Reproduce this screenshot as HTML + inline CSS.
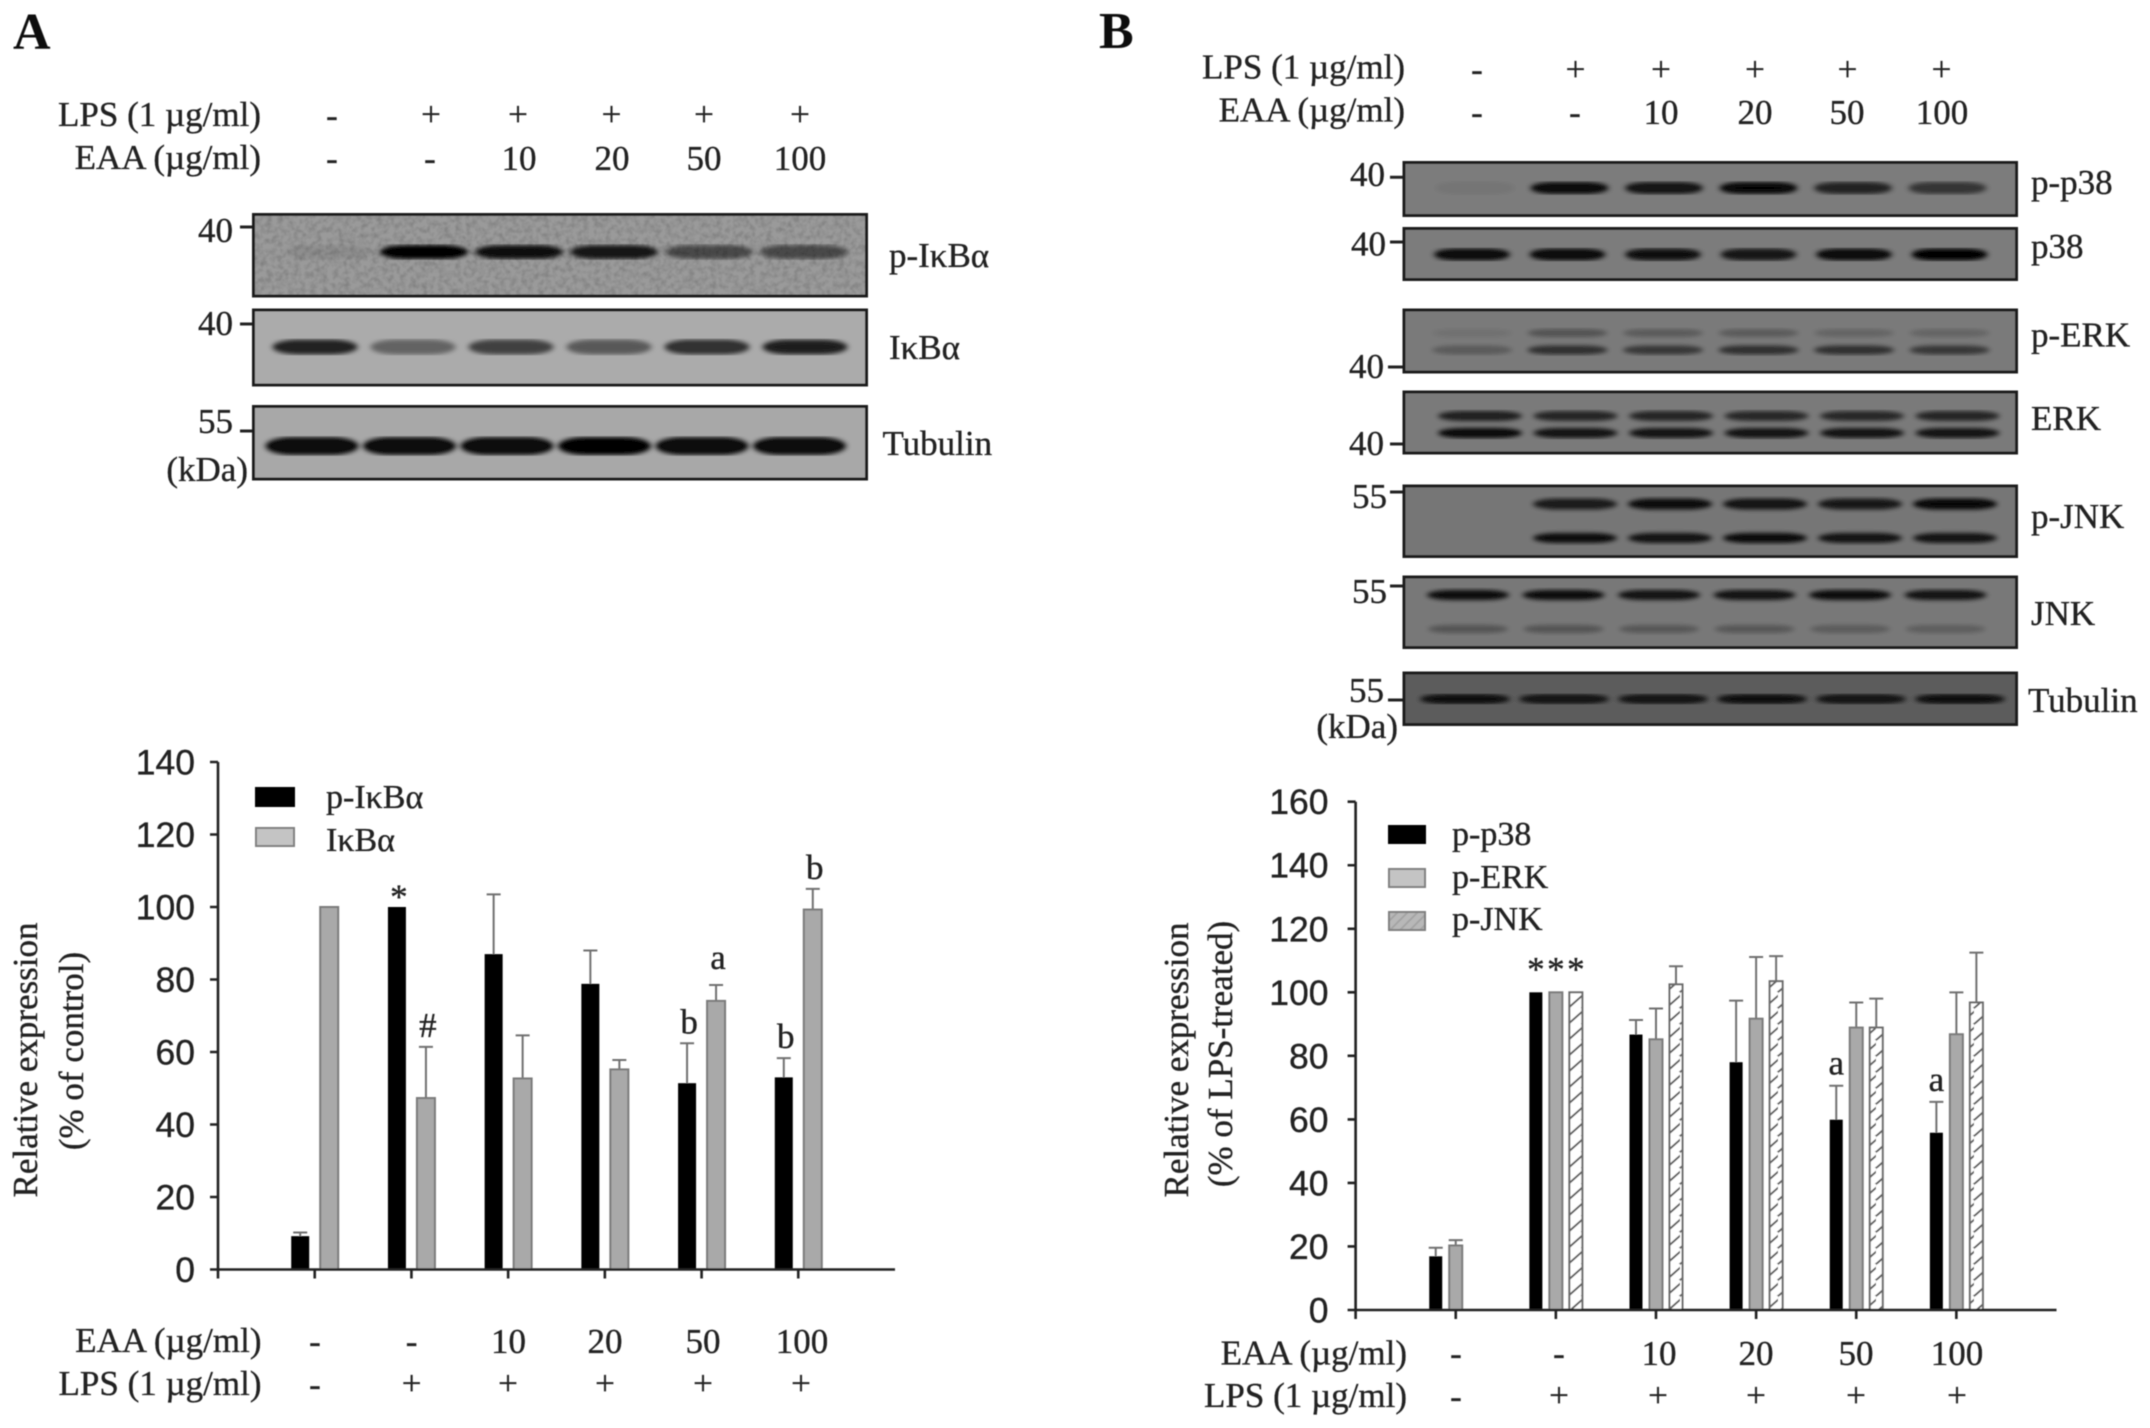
<!DOCTYPE html>
<html lang="en">
<head>
<meta charset="utf-8">
<title>EAA western blots and relative expression charts</title>
<style>
html,body{margin:0;padding:0;background:#fff;width:2150px;height:1428px;overflow:hidden}
svg{display:block}
text{fill:#222;stroke:#222;stroke-width:0.35px}
.s{font-family:"Liberation Serif",serif;font-size:35px}
.t{font-family:"Liberation Sans",sans-serif;font-size:35.5px;text-anchor:end}
.m{text-anchor:middle}
.e{text-anchor:end}
.letter{font-family:"Liberation Serif",serif;font-size:52px;font-weight:bold;fill:#111;stroke:none}
.leg{font-size:34px}
</style>
</head>
<body>
<svg id="figure" xmlns="http://www.w3.org/2000/svg" width="2150" height="1428" viewBox="0 0 2150 1428">
<defs>
<filter id="soft"><feGaussianBlur stdDeviation="0.65"/></filter>
<filter id="bandblur" x="-5%" y="-5%" width="110%" height="110%"><feGaussianBlur stdDeviation="3 2.2"/></filter>
<filter id="grain" x="0" y="0" width="100%" height="100%"><feTurbulence type="fractalNoise" baseFrequency="0.18" numOctaves="2" seed="4"/><feColorMatrix values="0 0 0 0 0 0 0 0 0 0 0 0 0 0 0 1.3 0 0 0 -0.5"/></filter>
<pattern id="hatch" patternUnits="userSpaceOnUse" width="14" height="16"><rect width="14" height="16" fill="#fff"/><path d="M-2 18L16 2M-2 2L2 -2M12 18L16 14" stroke="#5e5e5e" stroke-width="2" fill="none"/></pattern>
<pattern id="hatch-light" patternUnits="userSpaceOnUse" width="10" height="10"><rect width="10" height="10" fill="#b8b8b8"/><path d="M-2 12L12 -2M-2 2L2 -2M8 12L12 8" stroke="#a4a4a4" stroke-width="2" fill="none"/></pattern>
</defs>
<g id="root" filter="url(#soft)">

<text class="letter" x="13" y="49">A</text>
<text class="letter" x="1099" y="48">B</text>

<g>
<text class="s e" x="261" y="126">LPS (1 µg/ml)</text>
<text class="s e" x="261" y="169">EAA (µg/ml)</text>
<text class="s m" x="332" y="127">-</text>
<text class="s m" x="431" y="126">+</text>
<text class="s m" x="518" y="126">+</text>
<text class="s m" x="611.500" y="126">+</text>
<text class="s m" x="704" y="126">+</text>
<text class="s m" x="800" y="126">+</text>
<text class="s m" x="332" y="170">-</text>
<text class="s m" x="430" y="170">-</text>
<text class="s m" x="519" y="170">10</text>
<text class="s m" x="612" y="170">20</text>
<text class="s m" x="704" y="170">50</text>
<text class="s m" x="800" y="170">100</text>
</g>

<g>
<text class="s e" x="1405" y="78.500">LPS (1 µg/ml)</text>
<text class="s e" x="1405" y="121.500">EAA (µg/ml)</text>
<text class="s m" x="1477" y="81">-</text>
<text class="s m" x="1575.500" y="81">+</text>
<text class="s m" x="1661" y="81">+</text>
<text class="s m" x="1755" y="81">+</text>
<text class="s m" x="1847.500" y="81">+</text>
<text class="s m" x="1941.500" y="81">+</text>
<text class="s m" x="1477" y="124">-</text>
<text class="s m" x="1575" y="124">-</text>
<text class="s m" x="1661" y="124">10</text>
<text class="s m" x="1755" y="124">20</text>
<text class="s m" x="1847" y="124">50</text>
<text class="s m" x="1942" y="124">100</text>
</g>

<g id="blots"></g>

<g>
<text class="s e" x="233" y="242">40</text>
<text class="s e" x="233" y="335">40</text>
<text class="s e" x="233" y="433">55</text>
<text class="s e" x="248" y="481">(kDa)</text>
<path d="M240 227H252M240 324H252M240 431H252" stroke="#222" stroke-width="3"/>
<text class="s" x="889" y="267">p-IκBα</text>
<text class="s" x="889" y="359">IκBα</text>
<text class="s" x="882.500" y="455">Tubulin</text>
</g>

<g>
<text class="s e" x="1385" y="186">40</text>
<text class="s e" x="1386" y="255.500">40</text>
<text class="s e" x="1384" y="378">40</text>
<text class="s e" x="1384" y="455">40</text>
<text class="s e" x="1387" y="508">55</text>
<text class="s e" x="1387" y="603">55</text>
<text class="s e" x="1384" y="702">55</text>
<text class="s e" x="1398" y="738">(kDa)</text>
<path d="M1390 177.300H1402.500M1390 242H1402.500M1388 367H1402.500M1390 444H1402.500M1390 492H1402.500M1390 586H1402.500M1388 700H1402.500" stroke="#222" stroke-width="3"/>
<text class="s" x="2031" y="194">p-p38</text>
<text class="s" x="2031" y="258">p38</text>
<text class="s" x="2031" y="346.500">p-ERK</text>
<text class="s" x="2031" y="430">ERK</text>
<text class="s" x="2031" y="528">p-JNK</text>
<text class="s" x="2031" y="625">JNK</text>
<text class="s" x="2028" y="712">Tubulin</text>
</g>

<g id="chart-a">
<text class="s m" transform="translate(37,1060) rotate(-90)">Relative expression</text>
<text class="s m" transform="translate(83,1051) rotate(-90)">(% of control)</text>
<rect x="255" y="787" width="40" height="20" fill="#000"/>
<rect x="256" y="828" width="38" height="18" fill="#c4c4c4" stroke="#808080" stroke-width="2"/>
<text class="s leg" x="326" y="808">p-IκBα</text>
<text class="s leg" x="326" y="851">IκBα</text>
<text class="s e" x="261.500" y="1352">EAA (µg/ml)</text>
<text class="s e" x="261.500" y="1395">LPS (1 µg/ml)</text>
<text class="s m" x="315" y="1353">-</text>
<text class="s m" x="411.600" y="1353">-</text>
<text class="s m" x="508.500" y="1353">10</text>
<text class="s m" x="605" y="1353">20</text>
<text class="s m" x="703" y="1353">50</text>
<text class="s m" x="802" y="1353">100</text>
<text class="s m" x="315" y="1396">-</text>
<text class="s m" x="411.600" y="1395">+</text>
<text class="s m" x="508" y="1395">+</text>
<text class="s m" x="605" y="1395">+</text>
<text class="s m" x="703" y="1395">+</text>
<text class="s m" x="801" y="1395">+</text>
</g>

<g id="chart-b">
<text class="s m" transform="translate(1188,1060) rotate(-90)">Relative expression</text>
<text class="s m" transform="translate(1232,1054) rotate(-90)">(% of LPS-treated)</text>
<rect x="1388" y="825" width="38" height="19" fill="#000"/>
<rect x="1389" y="869" width="36" height="18" fill="#c4c4c4" stroke="#808080" stroke-width="2"/>
<rect x="1389" y="912" width="36" height="18" fill="url(#hatch-light)" stroke="#808080" stroke-width="2"/>
<text class="s leg" x="1452" y="845">p-p38</text>
<text class="s leg" x="1452" y="888">p-ERK</text>
<text class="s leg" x="1452" y="930">p-JNK</text>
<text class="s e" x="1407" y="1364.500">EAA (µg/ml)</text>
<text class="s e" x="1407" y="1407">LPS (1 µg/ml)</text>
<text class="s m" x="1456" y="1365">-</text>
<text class="s m" x="1559" y="1365">-</text>
<text class="s m" x="1659" y="1365">10</text>
<text class="s m" x="1756" y="1365">20</text>
<text class="s m" x="1856" y="1365">50</text>
<text class="s m" x="1957" y="1365">100</text>
<text class="s m" x="1456" y="1408">-</text>
<text class="s m" x="1559" y="1407">+</text>
<text class="s m" x="1658" y="1407">+</text>
<text class="s m" x="1756" y="1407">+</text>
<text class="s m" x="1856" y="1407">+</text>
<text class="s m" x="1957" y="1407">+</text>
</g>
</g>
</svg>
<script>
// Chart A data
const aCategories = ['control', 'LPS', 'EAA 10', 'EAA 20', 'EAA 50', 'EAA 100'];
const aTickLabels = [0, 20, 40, 60, 80, 100, 120, 140];
const aPIkba = [9.2, 100, 87, 78.8, 51.4, 53];
const aPIkbaErr = [1, 0, 16.5, 9.2, 11, 5.3];
const aPIkbaMarks = ['', '*', '', '', 'b', 'b'];
const aIkba = [100, 47.3, 52.7, 55.2, 74.1, 99.3];
const aIkbaErr = [0, 14.1, 11.9, 2.6, 4.4, 5.7];
const aIkbaMarks = ['', '#', '', '', 'a', 'b'];

// Chart B data
const bCategories = ['control', 'LPS', 'EAA 10', 'EAA 20', 'EAA 50', 'EAA 100'];
const bTickLabels = [0, 20, 40, 60, 80, 100, 120, 140, 160];
const bPP38 = [16.9, 100, 86.7, 78, 59.9, 55.8];
const bPP38Err = [2.7, 0, 4.6, 19.4, 10.7, 9.7];
const bPP38Marks = ['', '*', '', '', 'a', 'a'];
const bPErk = [20.3, 100, 85.2, 91.7, 88.9, 86.8];
const bPErkErr = [1.7, 0, 9.7, 19.4, 7.9, 13.2];
const bPErkMarks = ['', '*', '', '', '', ''];
const bPJnk = [null, 100, 102.5, 103.5, 88.9, 96.8];
const bPJnkErr = [0, 0, 5.7, 7.9, 9.1, 15.7];
const bPJnkMarks = ['', '*', '', '', '', ''];

// Blot band intensities per lane
const bandPIkba = [0.08, 1, 0.9, 0.85, 0.52, 0.52];
const bandIkba = [0.8, 0.42, 0.62, 0.48, 0.72, 0.82];
const bandTubulinA = [0.95, 0.95, 0.95, 1, 0.95, 0.95];
const bandPP38 = [0.06, 0.92, 0.85, 0.95, 0.72, 0.58];
const bandP38 = [0.92, 0.92, 0.88, 0.82, 0.92, 1];
const bandPErkUpper = [0.08, 0.32, 0.26, 0.26, 0.18, 0.18];
const bandPErkLower = [0.26, 0.62, 0.55, 0.62, 0.62, 0.55];
const bandErkUpper = [0.75, 0.7, 0.7, 0.68, 0.68, 0.7];
const bandErkLower = [0.95, 0.85, 0.85, 0.85, 0.85, 0.85];
const bandPJnkUpper = [0, 0.78, 0.9, 0.85, 0.8, 0.95];
const bandPJnkLower = [0, 0.9, 0.85, 0.92, 0.85, 0.85];
const bandJnkUpper = [0.9, 0.9, 0.85, 0.85, 0.9, 0.85];
const bandJnkLower = [0.3, 0.3, 0.28, 0.28, 0.24, 0.22];
const bandTubulinB = [0.85, 0.8, 0.8, 0.85, 0.8, 0.85];

const NS = 'http://www.w3.org/2000/svg';
function make(tag, parent) {
  const el = document.createElementNS(NS, tag);
  parent.appendChild(el);
  return el;
}
function setAll(el, props) {
  Object.keys(props).forEach(function (k) { el.setAttribute(k, props[k]); });
}

// ---------- charts ----------
function drawChart(cfg) {
  const host = document.getElementById(cfg.id);
  const n = cfg.categories.length + 1;
  const xTick = function (i) { return cfg.x0 + (cfg.x1 - cfg.x0) * (i + 1) / n; };
  const yVal = function (v) { return cfg.y0 - (cfg.y0 - cfg.yTop) * v / cfg.yMax; };

  cfg.series.forEach(function (s, si) {
    const off = (si - (cfg.series.length - 1) / 2) * cfg.step;
    s.values.forEach(function (v, i) {
      if (v === null) return;
      const cx = xTick(i) + off;
      const top = yVal(v);
      const errTop = yVal(v + s.errors[i]);
      if (s.errors[i] > 0) {
        const err = make('path', host);
        setAll(err, { d: 'M' + cx + ' ' + top + 'V' + errTop + 'M' + (cx - 7) + ' ' + errTop + 'H' + (cx + 7), stroke: '#707070', 'stroke-width': 2, fill: 'none' });
        
        
      }
      const bar = make('rect', host);
      setAll(bar, { x: cx - cfg.barW / 2, y: top, width: cfg.barW, height: cfg.y0 - top, fill: s.fill });
      if (s.stroke) { bar.setAttribute('stroke', s.stroke); bar.setAttribute('stroke-width', 2); }
      
      
      const mark = s.marks[i];
      if (mark) {
        const t = make('text', host);
        const gap = mark === '*' ? cfg.starGap : (mark === 'a' ? cfg.aGap : 10);
        setAll(t, { x: cx + cfg.markShift, y: errTop - gap, 'class': 's m' });
        t.textContent = mark;
        
        
      }
    });
  });

  const axes = make('path', host);
  let d = 'M' + cfg.x0 + ' ' + cfg.yTop + 'V' + cfg.y0 + 'H' + cfg.x1;
  for (let i = -1; i < n - 1; i++) { d += 'M' + xTick(i) + ' ' + cfg.y0 + 'v9'; }
  cfg.ticks.forEach(function (v) { d += 'M' + (cfg.x0 - 8) + ' ' + yVal(v) + 'h8'; });
  setAll(axes, { d: d, stroke: '#222', 'stroke-width': 2.6, fill: 'none' });
  
  

  cfg.ticks.forEach(function (v) {
    const t = make('text', host);
    setAll(t, { x: cfg.labelX, y: yVal(v) + 12.5, 'class': 't' });
    t.textContent = v;
    
    
  });
}

drawChart({
  id: 'chart-a', categories: aCategories, ticks: aTickLabels,
  x0: 218, x1: 895, y0: 1269.5, yTop: 762, yMax: 140, barW: 18, step: 29, starGap: -1.5, aGap: 16, markShift: 2, labelX: 195,
  series: [
    { values: aPIkba, errors: aPIkbaErr, marks: aPIkbaMarks, fill: '#000' },
    { values: aIkba, errors: aIkbaErr, marks: aIkbaMarks, fill: '#a9a9a9', stroke: '#7a7a7a' }
  ]
});
drawChart({
  id: 'chart-b', categories: bCategories, ticks: bTickLabels,
  x0: 1355.6, x1: 2056.5, y0: 1310, yTop: 801.7, yMax: 160, barW: 13, step: 20, starGap: 11.5, aGap: 11, markShift: 0, labelX: 1328.5,
  series: [
    { values: bPP38, errors: bPP38Err, marks: bPP38Marks, fill: '#000' },
    { values: bPErk, errors: bPErkErr, marks: bPErkMarks, fill: '#a9a9a9', stroke: '#7a7a7a' },
    { values: bPJnk, errors: bPJnkErr, marks: bPJnkMarks, fill: 'url(#hatch)', stroke: '#6a6a6a' }
  ]
});

// ---------- blots ----------
function drawPanel(left, top, right, bottom, bg, grain, bands) {
  const host = document.getElementById('blots');
  const g = make('g', host);
  
  
  const bgRect = make('rect', g);
  setAll(bgRect, { x: left, y: top, width: right - left, height: bottom - top, fill: bg });
  
  
  if (grain) {
    const noise = make('rect', g);
    setAll(noise, { x: left, y: top, width: right - left, height: bottom - top, fill: '#000', filter: 'url(#grain)', opacity: 0.25 });
    
    
  }
  const laneGroup = make('g', g);
  laneGroup.setAttribute('filter', 'url(#bandblur)');
  
  
  bands.forEach(function (b) {
    b.levels.forEach(function (level, i) {
      if (!level) return;
      const band = make('rect', laneGroup);
      const cx = b.first + i * b.spacing;
      setAll(band, { x: cx - b.w / 2, y: b.y - b.h / 2, width: b.w, height: b.h, rx: b.w * 0.3, ry: b.h / 2, fill: '#000', opacity: level });
      
      
    });
  });
  const border = make('rect', g);
  setAll(border, { x: left + 1.5, y: top + 1.5, width: right - left - 3, height: bottom - top - 3, fill: 'none', stroke: '#1c1c1c', 'stroke-width': 3 });
  
  
}

drawPanel(252, 213, 868, 297.5, '#9a9a9a', true, [{ levels: bandPIkba, first: 329, spacing: 95, y: 252, h: 14, w: 88 }]);
drawPanel(252, 308.5, 868, 386.5, '#ababab', false, [{ levels: bandIkba, first: 315, spacing: 98, y: 347, h: 15, w: 85 }]);
drawPanel(252, 405, 868, 480.5, '#a8a8a8', false, [{ levels: bandTubulinA, first: 312, spacing: 97.5, y: 446, h: 18, w: 93 }]);

drawPanel(1402.5, 161, 2018, 217, '#7b7b7b', false, [{ levels: bandPP38, first: 1475, spacing: 94.5, y: 188, h: 12, w: 78 }]);
drawPanel(1402.5, 227, 2018, 281, '#7b7b7b', false, [{ levels: bandP38, first: 1472, spacing: 95.5, y: 254.5, h: 12, w: 76 }]);
drawPanel(1402.5, 308.5, 2018, 373.5, '#7a7a7a', false, [
  { levels: bandPErkUpper, first: 1472, spacing: 95.5, y: 333, h: 8, w: 80 },
  { levels: bandPErkLower, first: 1472, spacing: 95.5, y: 350, h: 9, w: 80 }
]);
drawPanel(1402.5, 390.5, 2018, 454.5, '#7a7a7a', false, [
  { levels: bandErkUpper, first: 1480, spacing: 95.5, y: 416, h: 10, w: 84 },
  { levels: bandErkLower, first: 1480, spacing: 95.5, y: 433, h: 10, w: 84 }
]);
drawPanel(1402.5, 484.5, 2018, 558, '#767676', false, [
  { levels: bandPJnkUpper, first: 1480, spacing: 95, y: 504, h: 11, w: 84 },
  { levels: bandPJnkLower, first: 1480, spacing: 95, y: 538, h: 10, w: 84 }
]);
drawPanel(1402.5, 575.5, 2018, 649, '#787878', false, [
  { levels: bandJnkUpper, first: 1468, spacing: 95.5, y: 595, h: 10, w: 82 },
  { levels: bandJnkLower, first: 1468, spacing: 95.5, y: 629, h: 8, w: 80 }
]);
drawPanel(1402.5, 671.5, 2018, 726, '#5c5c5c', false, [{ levels: bandTubulinB, first: 1465, spacing: 99, y: 699, h: 10, w: 90 }]);
</script>
</body>
</html>
